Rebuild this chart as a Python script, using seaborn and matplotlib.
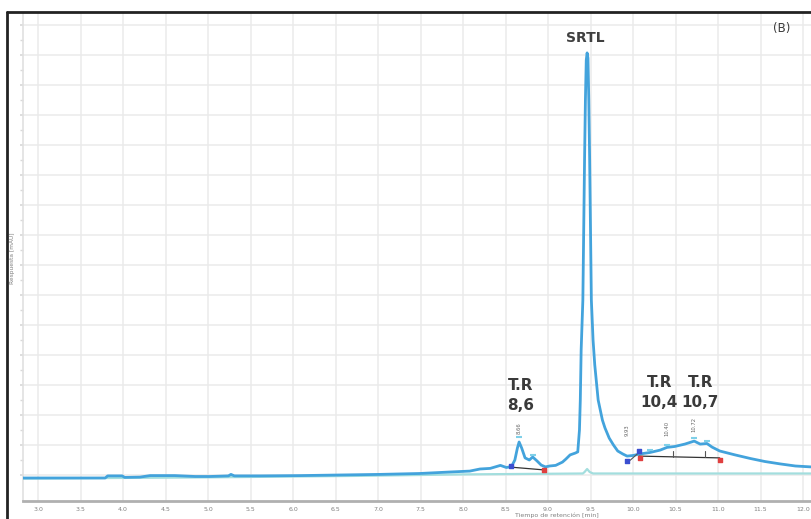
import matplotlib
matplotlib.use("Agg")
import matplotlib.pyplot as plt
from matplotlib.lines import Line2D
import numpy as np
import pandas as pd
import seaborn as sns

# Detector trace (UV, blue) : retention time [min] and response [mAU]
time_main = [2.82, 3.26, 3.79, 3.82, 3.99, 4.02, 4.20, 4.32, 4.61, 4.85, 5.02, 5.24,
             5.27, 5.31, 5.61, 6.08, 6.55, 7.02, 7.49, 7.85, 8.08, 8.20, 8.32, 8.44,
             8.51, 8.57, 8.61, 8.64, 8.66, 8.69, 8.73, 8.78, 8.82, 8.87, 8.92, 8.97,
             9.02, 9.09, 9.17, 9.21, 9.26, 9.32, 9.35, 9.37, 9.38, 9.39, 9.41, 9.42,
             9.43, 9.44, 9.45, 9.46, 9.47, 9.48, 9.49, 9.50, 9.51, 9.53, 9.55, 9.59,
             9.64, 9.67, 9.72, 9.77, 9.82, 9.88, 9.93, 10.00, 10.08, 10.20, 10.32,
             10.40, 10.49, 10.61, 10.72, 10.79, 10.87, 10.93, 11.02, 11.20, 11.38,
             11.55, 11.73, 11.91, 12.09]
resp_main = [-1.0, -1.0, -1.0, -0.3, -0.3, -0.8, -0.7, -0.2, -0.2, -0.5, -0.5, -0.3,
             0.2, -0.3, -0.3, -0.2, 0.0, 0.2, 0.5, 1.0, 1.3, 2.0, 2.2, 3.2,
             2.5, 2.8, 5.0, 9.0, 11.0, 9.0, 5.7, 5.0, 6.0, 4.7, 3.3, 2.7,
             3.0, 3.2, 4.3, 5.3, 6.7, 7.3, 7.7, 15.0, 25.0, 41.7, 58.3, 81.7,
             105.0, 125.0, 138.3, 140.7, 139.0, 125.0, 105.0, 81.7, 58.3, 45.0, 36.7, 25.0,
             18.3, 15.7, 12.3, 10.0, 8.0, 7.0, 6.3, 6.5, 7.0, 7.5, 8.3,
             9.2, 9.5, 10.3, 11.3, 10.3, 10.5, 9.3, 8.0, 6.7, 5.5,
             4.5, 3.7, 3.0, 2.7]

# Reference channel (light cyan)
time_ref = [2.82, 5.00, 6.77, 8.00, 9.41, 9.43, 9.46, 9.49, 9.53, 12.09]
resp_ref = [-1.2, -0.8, -0.3, 0.2, 0.5, 1.0, 2.0, 1.0, 0.5, 0.5]

# Peak labels
peak_names = ["T.R\n8,6", "T.R\n10,4", "T.R\n10,7"]
peak_label_x = [8.68, 10.31, 10.79]
peak_label_y = [26.5, 27.5, 27.5]

# Integration marks
peak_times = [8.66, 9.93, 10.40, 10.72]
peak_tags = ["8.66", "9.93", "10.40", "10.72"]
peak_tag_y = [15.5, 15.0, 15.5, 17.0]
base1_t = [8.57, 8.95]
base1_r = [2.6, 1.7]
base2_t = [10.07, 11.02]
base2_r = [6.3, 5.7]
drop_t = [10.47, 10.85]
start_t = [8.57, 9.93, 10.07]
start_r = [3.0, 4.5, 8.0]
end_t = [8.95, 10.08, 11.02]
end_r = [1.7, 5.7, 5.0]
apex_t = [8.66, 8.82, 10.20, 10.40, 10.72, 10.87]
apex_r = [12.5, 6.8, 8.3, 10.0, 12.2, 11.3]

xticks = [3.0 + 0.5 * i for i in range(19)]
xtick_labels = [f"{v:.1f}" for v in xticks]

sns.set_theme(style="white")
plt.rcParams["font.family"] = ["DejaVu Sans"]

W, H = 811, 519
fig = plt.figure(figsize=(W / 100, H / 100), dpi=100)
ax = fig.add_axes([23 / W, (H - 501) / H, (W - 23) / W, (501 - 13) / H])

df_main = pd.DataFrame({"t": time_main, "r": resp_main})
df_ref = pd.DataFrame({"t": time_ref, "r": resp_ref})

sns.lineplot(data=df_ref, x="t", y="r", ax=ax, color="#a3dede", lw=1.6,
             sort=False, zorder=3)
sns.lineplot(data=df_main, x="t", y="r", ax=ax, color="#43a3dc", lw=2.0,
             sort=False, zorder=4)

# integration baselines and markers
ax.plot(base1_t, base1_r, color="#333333", lw=0.9, zorder=5)
ax.plot(base2_t, base2_r, color="#333333", lw=0.9, zorder=5)
ax.plot([9.93, 10.07], [4.0, 7.5], color="#555555", lw=0.8, zorder=5)
for t in drop_t:
    ax.plot([t, t], [5.9, 7.9], color="#555555", lw=0.8, zorder=5)
ax.scatter(start_t, start_r, marker="s", s=7, color="#3b4fd0", zorder=6)
ax.scatter(end_t, end_r, marker="s", s=7, color="#e04040", zorder=6)
ax.scatter(apex_t, apex_r, marker="_", s=25, color="#7fd0e8", lw=1.5, zorder=6)

for t, s, y in zip(peak_times, peak_tags, peak_tag_y):
    ax.text(t, y, s, rotation=90, ha="center", va="center", fontsize=3.8,
            color="#666666", zorder=6)

for name, x, y in zip(peak_names, peak_label_x, peak_label_y):
    ax.text(x, y, name, ha="center", va="center", fontsize=11,
            fontweight="semibold", color="#3a3a3a", linespacing=1.35, zorder=7)

ax.text(9.435, 145.5, "SRTL", ha="center", va="center", fontsize=10,
        fontweight="bold", color="#404040")
ax.text(11.75, 148.8, "(B)", ha="center", va="center", fontsize=8.5,
        color="#3a3a3a")

ax.set_xlim(2.8235, 12.094)
ax.set_ylim(-8.67, 154.0)
ax.set_xticks(xticks)
ax.set_xticklabels(xtick_labels, fontsize=4.5, color="#808080")
ax.set_yticks(np.arange(0, 151, 10))
ax.set_yticks(np.arange(5, 151, 10), minor=True)
ax.tick_params(axis="x", length=0, pad=4)
ax.tick_params(axis="y", which="both", length=2, color="#d8d8d8",
               labelleft=False, left=True)
ax.grid(True, which="major", color="#ebebeb", lw=1.1)
ax.set_xlabel("")
ax.set_ylabel("")
for side in ["top", "right"]:
    ax.spines[side].set_visible(False)
ax.spines["left"].set_color("#e0e0e0")
ax.spines["left"].set_linewidth(1.2)
ax.spines["bottom"].set_color("#b0b0b0")
ax.spines["bottom"].set_linewidth(2.0)

fig.text(557 / W, 1 / H, "Tiempo de retención [min]", ha="center", va="bottom",
         fontsize=4.5, color="#808080")
fig.text(13 / W, 1 - 258 / H, "Respuesta [mAU]", rotation=90, ha="center",
         va="center", fontsize=4.2, color="#808080")

# outer frame
fig.add_artist(Line2D([7 / W, 7 / W], [0, 1 - 12 / H], color="#222222", lw=2.0))
fig.add_artist(Line2D([7 / W, 1], [1 - 12 / H, 1 - 12 / H], color="#222222", lw=2.0))

fig.savefig("out.png", dpi=100)
